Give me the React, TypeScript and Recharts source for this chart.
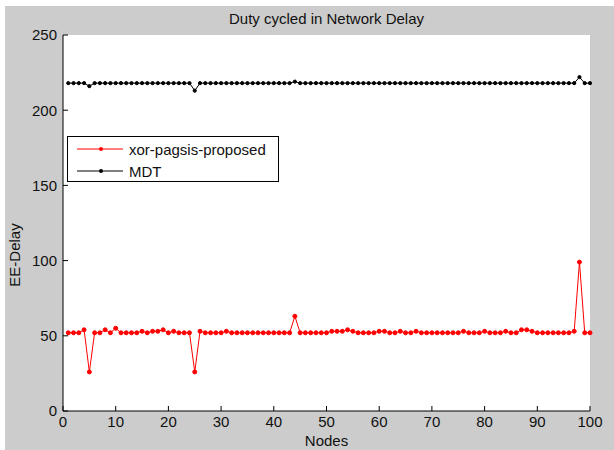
import React from 'react';
import { LineChart, Line, XAxis, YAxis, CartesianGrid, Legend } from 'recharts';

const nodes: number[] = Array.from({ length: 100 }, (_, i) => i + 1);

const proposed: number[] = [
  52, 52, 52, 54, 26, 52, 52, 54, 52, 55,
  52, 52, 52, 52, 53, 52, 53, 53, 54, 52,
  53, 52, 52, 52, 26, 53, 52, 52, 52, 52,
  53, 52, 52, 52, 52, 52, 52, 52, 52, 52,
  52, 52, 52, 63, 52, 52, 52, 52, 52, 52,
  53, 53, 53, 54, 53, 52, 52, 52, 52, 53,
  53, 52, 52, 53, 52, 52, 53, 52, 52, 52,
  52, 52, 52, 52, 52, 53, 52, 52, 52, 53,
  52, 52, 52, 53, 52, 52, 54, 54, 53, 52,
  52, 52, 52, 52, 52, 52, 53, 99, 52, 52,
];

const mdt: number[] = [
  218, 218, 218, 218, 216, 218, 218, 218, 218, 218,
  218, 218, 218, 218, 218, 218, 218, 218, 218, 218,
  218, 218, 218, 218, 213, 218, 218, 218, 218, 218,
  218, 218, 218, 218, 218, 218, 218, 218, 218, 218,
  218, 218, 218, 219, 218, 218, 218, 218, 218, 218,
  218, 218, 218, 218, 218, 218, 218, 218, 218, 218,
  218, 218, 218, 218, 218, 218, 218, 218, 218, 218,
  218, 218, 218, 218, 218, 218, 218, 218, 218, 218,
  218, 218, 218, 218, 218, 218, 218, 218, 218, 218,
  218, 218, 218, 218, 218, 218, 218, 222, 218, 218,
];

const xTicks: number[] = [0, 10, 20, 30, 40, 50, 60, 70, 80, 90, 100];
const yTicks: number[] = [0, 50, 100, 150, 200, 250];

const seriesNames = { proposed: 'xor-pagsis-proposed', mdt: 'MDT' };
const titleText = 'Duty cycled in Network Delay';
const xLabel = 'Nodes';
const yLabel = 'EE-Delay';

const data = nodes.map((n, i) => ({ node: n, proposed: proposed[i], mdt: mdt[i] }));

const FONT = '"Liberation Sans", Arial, sans-serif';
const FS = 15;
const tickStyle = { fontSize: FS, fill: '#111', fontFamily: FONT };

const XLabel = (props: any) => {
  const vb = props.viewBox || {};
  const cx = (vb.x || 0) + (vb.width || 0) / 2;
  return (
    <g>
      <text x={cx} y={24} textAnchor="middle" fontSize={FS} fill="#111" fontFamily={FONT}>
        {titleText}
      </text>
      <text x={cx} y={446} textAnchor="middle" fontSize={FS} fill="#111" fontFamily={FONT}>
        {xLabel}
      </text>
    </g>
  );
};

const YLabel = () => (
  <text x={20} y={255} transform="rotate(-90 20 255)" textAnchor="middle" fontSize={FS} fill="#111" fontFamily={FONT}>
    {yLabel}
  </text>
);

const LegendBox = () => {
  const rows = [
    { name: seriesNames.proposed, color: '#ff0000' },
    { name: seriesNames.mdt, color: '#000000' },
  ];
  return (
    <div
      style={{
        width: 210,
        height: 44,
        border: '1px solid #000',
        background: '#fff',
        fontFamily: FONT,
        fontSize: FS,
        color: '#111',
        position: 'relative',
      }}
    >
      {rows.map((r, i) => (
        <div
          key={r.name}
          style={{ position: 'absolute', left: 0, top: 2 + i * 22, height: 20, display: 'flex', alignItems: 'center' }}
        >
          <svg width={60} height={20} style={{ display: 'block' }}>
            <line x1={9} y1={10} x2={55} y2={10} stroke={r.color} strokeWidth={1} />
            <circle cx={33} cy={10} r={2} fill={r.color} />
          </svg>
          <span style={{ marginLeft: 1, whiteSpace: 'nowrap' }}>{r.name}</span>
        </div>
      ))}
    </div>
  );
};

export default function App() {
  return (
    <div style={{ position: 'absolute', left: 0, top: 0, width: 614, height: 450, background: '#fff' }}>
      <div style={{ position: 'absolute', left: 5, top: 6, width: 609, height: 444, background: '#cccccc' }} />
      <div style={{ position: 'absolute', left: 0, top: 0 }}>
        <LineChart width={614} height={450} data={data} margin={{ top: 35, right: 24, bottom: 0, left: 0 }}>
          <CartesianGrid fill="#fff" stroke="none" horizontal={false} vertical={false} />
          <XAxis
            xAxisId="bottom"
            dataKey="node"
            type="number"
            domain={[0, 100]}
            ticks={xTicks}
            height={39}
            tickSize={-5}
            tickMargin={10}
            tick={tickStyle}
            axisLine={{ stroke: '#000' }}
            tickLine={{ stroke: '#000' }}
            label={<XLabel />}
          />
          <XAxis
            xAxisId="top"
            orientation="top"
            dataKey="node"
            type="number"
            domain={[0, 100]}
            ticks={xTicks}
            height={0}
            tickSize={-5}
            tick={false}
            axisLine={{ stroke: '#000' }}
            tickLine={{ stroke: '#000' }}
          />
          <YAxis
            yAxisId="left"
            type="number"
            domain={[0, 250]}
            ticks={yTicks}
            width={63}
            tickSize={-5}
            tickMargin={11}
            tick={tickStyle}
            axisLine={{ stroke: '#000' }}
            tickLine={{ stroke: '#000' }}
            label={<YLabel />}
          />
          <YAxis
            yAxisId="right"
            orientation="right"
            type="number"
            domain={[0, 250]}
            ticks={yTicks}
            width={0}
            tickSize={-5}
            tick={false}
            axisLine={{ stroke: '#000' }}
            tickLine={{ stroke: '#000' }}
          />
          <Legend
            layout="vertical"
            align="center"
            verticalAlign="middle"
            content={<LegendBox />}
            wrapperStyle={{ position: 'absolute', left: 67, top: 136, width: 212, height: 46 }}
          />
          <Line
            xAxisId="bottom"
            yAxisId="left"
            type="linear"
            dataKey="proposed"
            name={seriesNames.proposed}
            stroke="#ff0000"
            strokeWidth={1}
            dot={{ r: 2, fill: '#ff0000', stroke: '#ff0000', strokeWidth: 1 }}
            isAnimationActive={false}
          />
          <Line
            xAxisId="bottom"
            yAxisId="left"
            type="linear"
            dataKey="mdt"
            name={seriesNames.mdt}
            stroke="#000000"
            strokeWidth={1}
            dot={{ r: 1.6, fill: '#000', stroke: '#000', strokeWidth: 1 }}
            isAnimationActive={false}
          />
        </LineChart>
      </div>
    </div>
  );
}
